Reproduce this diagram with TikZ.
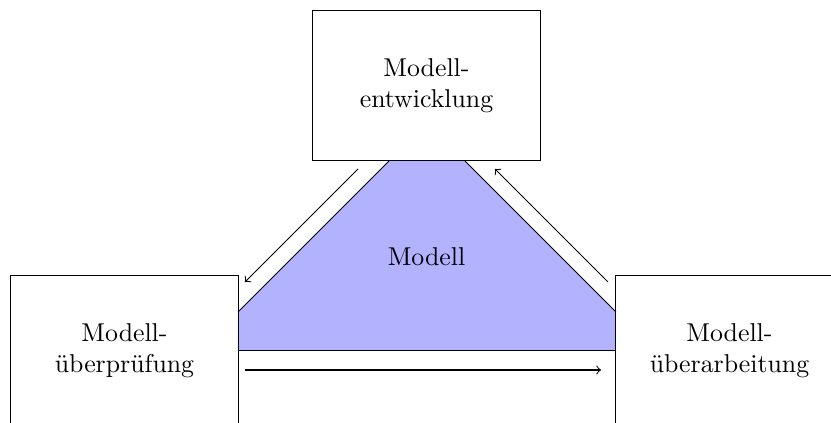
\documentclass[tikz,border=0pt]{standalone}
\begin{document}
\begin{tikzpicture}[x=0.3876pt,y=-0.3876pt,
  stage/.style={draw, rectangle, inner sep=0pt, outer sep=0pt,
    minimum width=88pt, minimum height=58.5pt, align=center},
  flow/.style={->},
  edge/.style={line width=0.4pt}]
  \useasboundingbox (0,0) rectangle (831,423);
  \clip (0,0) rectangle (831,423);

  % shared model area between the three stages
  \coordinate (mtl) at (389,161);
  \coordinate (mtr) at (465,161);
  \coordinate (mrt) at (616,312);
  \coordinate (mrb) at (616,350.5);
  \coordinate (mlb) at (238,350.5);
  \coordinate (mlt) at (238,312);
  \fill[blue!30] (mtl) -- (mtr) -- (mrt) -- (mrb) -- (mlb) -- (mlt) -- cycle;
  \draw[edge] (mtl) -- (mlt);
  \draw[edge] (mtr) -- (mrt);
  \draw[edge] (mlb) -- (mrb);
  \node (modell) at (426.5,257) {Modell};

  % the three stages
  \node[stage] (dev) at (426.5,85.5) {Modell-\\entwicklung};
  \node[stage] (check) at (124.5,350.5) {Modell-\\überprüfung};
  \node[stage] (rework) at (729.5,350.5) {Modell-\\überarbeitung};

  % cycle arrows
  \coordinate (a1s) at (358,169);
  \coordinate (a1e) at (245,282);
  \coordinate (a2s) at (608,282);
  \coordinate (a2e) at (495,169);
  \coordinate (a3s) at (245,370);
  \coordinate (a3e) at (601,370);
  \draw[flow] (a1s) -- (a1e);
  \draw[flow] (a2s) -- (a2e);
  \draw[flow] (a3s) -- (a3e);
\end{tikzpicture}
\end{document}
